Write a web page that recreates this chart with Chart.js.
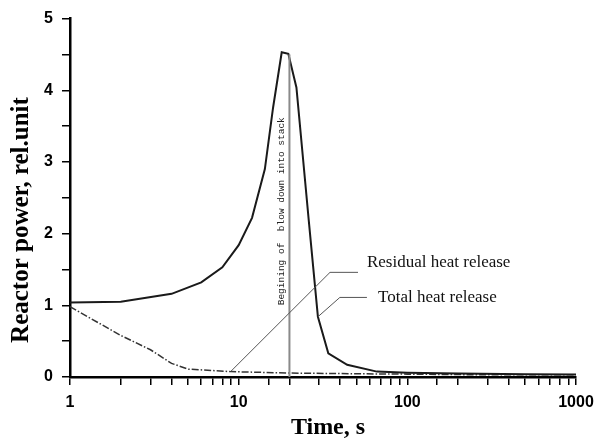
<!DOCTYPE html>
<html>
<head>
<meta charset="utf-8">
<script src="https://cdn.jsdelivr.net/npm/chart.js@4/dist/chart.umd.min.js"></script>
<style>
  html, body { margin: 0; padding: 0; background: #fff; }
  #wrap { width: 594px; height: 442px; }
</style>
</head>
<body>
<div id="wrap"><canvas id="chart" width="594" height="442"></canvas></div>
<script>
// values (time in s, power in rel. units)
const totalTime = [1, 2, 4, 6, 8, 10, 12, 14.3, 16, 18, 19.7, 22, 26, 29.5, 34, 44, 66, 100, 200, 500, 1000];
const totalPower = [1.04, 1.05, 1.16, 1.32, 1.53, 1.84, 2.22, 2.9, 3.76, 4.53, 4.51, 4.04, 2.2, 0.84, 0.33, 0.17, 0.075, 0.06, 0.05, 0.04, 0.035];

const residualTime = [1, 2, 3, 4, 5, 7, 9, 20, 50, 100, 300, 1000];
const residualPower = [0.98, 0.58, 0.38, 0.19, 0.11, 0.09, 0.075, 0.055, 0.045, 0.04, 0.03, 0.03];

const xTickLabels = [1, 10, 100, 1000];
const yTickLabels = [0, 1, 2, 3, 4, 5];

const blowDownTime = 20;
const blowDownTop = 4.5;

// leader lines for the two curve labels: [curve point, bend, end], label anchor
const residualLeader = [[9, 0.08], [34.8, 1.46], [51, 1.46]];
const residualLabel = { x: 57.6, y: 1.6, text: 'Residual heat release' };
const totalLeader = [[29.5, 0.84], [39.8, 1.11], [57.6, 1.11]];
const totalLabel = { x: 67, y: 1.11, text: 'Total heat release' };

const toPoints = (xs, ys) => xs.map((x, i) => ({ x: x, y: ys[i] }));

const tickFont = { family: '"Liberation Sans", Arial, sans-serif', size: 16, weight: 'bold' };

const overlayPlugin = {
  id: 'overlay',
  afterDatasetsDraw(chart) {
    const ctx = chart.ctx;
    const xs = chart.scales.x;
    const ys = chart.scales.y;
    const px = v => xs.getPixelForValue(v);
    const py = v => ys.getPixelForValue(v);
    ctx.save();

    // vertical marker for start of blow down
    ctx.strokeStyle = '#8a8a8a';
    ctx.lineWidth = 2;
    ctx.beginPath();
    ctx.moveTo(px(blowDownTime), py(0));
    ctx.lineTo(px(blowDownTime), py(blowDownTop));
    ctx.stroke();

    ctx.save();
    ctx.translate(px(blowDownTime) - 8, py(1));
    ctx.rotate(-Math.PI / 2);
    ctx.fillStyle = '#222';
    ctx.font = '9.5px "Liberation Mono", monospace';
    ctx.textAlign = 'left';
    ctx.textBaseline = 'middle';
    ctx.fillText('Begining of  blow down into stack', 0, 0);
    ctx.restore();

    // leader lines
    ctx.strokeStyle = '#555';
    ctx.lineWidth = 1;
    [residualLeader, totalLeader].forEach(pts => {
      ctx.beginPath();
      pts.forEach((p, i) => {
        if (i === 0) ctx.moveTo(px(p[0]), py(p[1]));
        else ctx.lineTo(px(p[0]), py(p[1]));
      });
      ctx.stroke();
    });

    ctx.fillStyle = '#111';
    ctx.font = '17px "Liberation Serif", serif';
    ctx.textAlign = 'left';
    ctx.textBaseline = 'middle';
    [residualLabel, totalLabel].forEach(l => {
      ctx.fillText(l.text, px(l.x), py(l.y));
    });

    // axis titles
    ctx.fillStyle = '#000';
    ctx.font = 'bold 24px "Liberation Serif", serif';
    ctx.textAlign = 'center';
    ctx.fillText('Time, s', 328, 428);

    ctx.save();
    ctx.translate(22, 220);
    ctx.rotate(-Math.PI / 2);
    ctx.font = 'bold 25px "Liberation Serif", serif';
    ctx.fillText('Reactor power, rel.unit', 0, 0);
    ctx.restore();

    ctx.restore();
  }
};

const ctx = document.getElementById('chart').getContext('2d');
new Chart(ctx, {
  type: 'line',
  data: {
    datasets: [{
      label: 'Total heat release',
      data: toPoints(totalTime, totalPower),
      borderColor: '#1a1a1a',
      borderWidth: 2,
      pointRadius: 0,
      tension: 0,
      fill: false
    }, {
      label: 'Residual heat release',
      data: toPoints(residualTime, residualPower),
      borderColor: '#333',
      borderWidth: 1.5,
      borderDash: [7, 2, 1.5, 2],
      pointRadius: 0,
      tension: 0,
      fill: false
    }]
  },
  options: {
    responsive: false,
    animation: false,
    layout: { padding: { top: 18, right: 18, left: 0, bottom: 0 } },
    plugins: {
      legend: { display: false },
      tooltip: { enabled: false }
    },
    scales: {
      x: {
        type: 'logarithmic',
        min: 1,
        max: 1000,
        afterFit: s => { s.height = 65; s.paddingRight = 0; },
        border: { display: true, color: '#000', width: 2.5 },
        grid: { drawOnChartArea: false, drawTicks: true, tickLength: 8, tickColor: '#000', lineWidth: 1.5 },
        ticks: {
          autoSkip: false,
          maxRotation: 0,
          padding: 8,
          color: '#000',
          font: tickFont,
          callback: v => (xTickLabels.includes(v) ? String(v) : '')
        }
      },
      y: {
        type: 'linear',
        min: 0,
        max: 5,
        afterFit: s => { s.width = 70; },
        border: { display: true, color: '#000', width: 2.5 },
        grid: { drawOnChartArea: false, drawTicks: true, tickLength: 8, tickColor: '#000', lineWidth: 1.5 },
        ticks: {
          stepSize: 0.5,
          padding: 9,
          color: '#000',
          font: tickFont,
          callback: v => (yTickLabels.includes(v) ? String(v) : '')
        }
      }
    }
  },
  plugins: [overlayPlugin]
});
</script>
</body>
</html>
